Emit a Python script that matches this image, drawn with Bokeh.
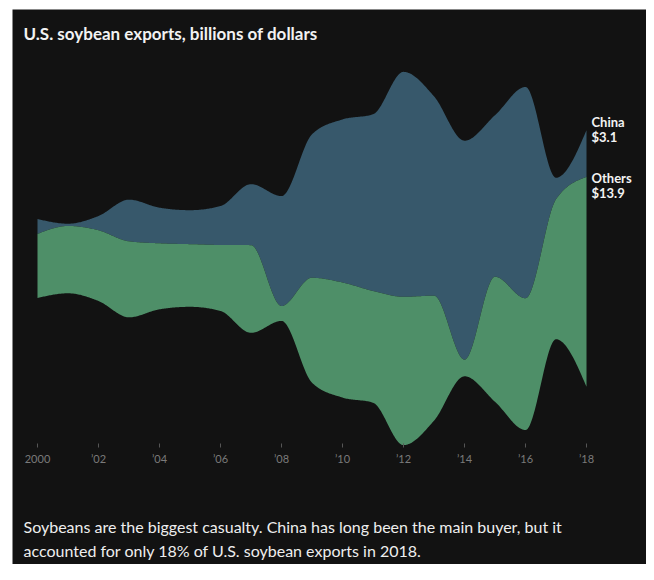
import numpy as np
from bokeh.plotting import figure
from bokeh.models import Range1d, Label
from bokeh.core.properties import value
from bokeh.embed import file_html
from bokeh.resources import INLINE

# ---------------- data (billions of dollars) ----------------
years = list(range(2000, 2019))
china = [0.99, 0.15, 0.95, 2.76, 2.36, 2.25, 2.58, 4.04, 7.28, 9.5,
         10.8, 11.7, 14.9, 13.2, 14.5, 10.7, 14.0, 1.43, 3.1]
others = [4.24, 4.46, 4.68, 5.03, 4.37, 4.15, 4.37, 5.81, 0.99, 6.95,
          7.62, 7.4, 9.82, 8.28, 1.1, 8.28, 8.72, 9.27, 13.9]
tick_years = [2000, 2002, 2004, 2006, 2008, 2010, 2012, 2014, 2016, 2018]
tick_labels = ["2000", "\u201902", "\u201904", "\u201906", "\u201908",
               "\u201910", "\u201912", "\u201914", "\u201916", "\u201918"]
series_names = ["China", "Others"]
series_last = ["$3.1", "$13.9"]
title_text = "U.S. soybean exports, billions of dollars"
caption_lines = [
    "Soybeans are the biggest casualty. China has long been the main buyer, but it",
    "accounted for only 18% of U.S. soybean exports in 2018.",
]

# ---------------- style ----------------
BG = "#121212"
BLUE = "#37586b"
GREEN = "#4e8f68"
FONT = "Lato"

W, H = 646, 564
FRAME_L, FRAME_T = 12, 9        # white strip left / top, as in the reference
FRAME_W = W - FRAME_L
FRAME_H = H - FRAME_T
PX_YEAR = 30.5
PX_B = 15.1
X_REF_PX = 37.0                 # px of year 2000
CENTER_PX = 258.0               # px of stream centre

x_start = years[0] - (X_REF_PX - FRAME_L) / PX_YEAR
x_end = x_start + FRAME_W / PX_YEAR
y_top = (CENTER_PX - FRAME_T) / PX_B
y_bot = y_top - FRAME_H / PX_B


def dx(px):
    return x_start + (px - FRAME_L) / PX_YEAR


def dy(py):
    return (CENTER_PX - py) / PX_B


# ---------------- monotone-x smoothing (like d3.curveMonotoneX) ----------------
def monotone(xs, ys, n=30):
    xs = np.asarray(xs, float)
    ys = np.asarray(ys, float)
    k = len(xs)
    h = np.diff(xs)
    s = np.diff(ys) / h
    m = np.zeros(k)
    for i in range(1, k - 1):
        s0, s1 = s[i - 1], s[i]
        p = (s0 * h[i] + s1 * h[i - 1]) / (h[i - 1] + h[i])
        m[i] = (np.sign(s0) + np.sign(s1)) * min(abs(s0), abs(s1), 0.5 * abs(p))
    m[0] = (3 * s[0] - m[1]) / 2
    m[-1] = (3 * s[-1] - m[-2]) / 2
    out_x, out_y = [], []
    for i in range(k - 1):
        u = np.linspace(0, 1, n, endpoint=False)
        h00 = 2 * u**3 - 3 * u**2 + 1
        h10 = u**3 - 2 * u**2 + u
        h01 = -2 * u**3 + 3 * u**2
        h11 = u**3 - u**2
        yy = h00 * ys[i] + h10 * h[i] * m[i] + h01 * ys[i + 1] + h11 * h[i] * m[i + 1]
        out_x.extend(xs[i] + u * h[i])
        out_y.extend(yy)
    out_x.append(xs[-1])
    out_y.append(ys[-1])
    return np.array(out_x), np.array(out_y)


china_a = np.array(china)
others_a = np.array(others)
total = china_a + others_a
top = total / 2.0
mid = top - china_a
bottom = -total / 2.0

sx, s_top = monotone(years, top)
_, s_mid = monotone(years, mid)
_, s_bot = monotone(years, bottom)

# ---------------- figure ----------------
p = figure(width=W, height=H, output_backend="svg", toolbar_location=None,
           x_axis_location=None, y_axis_location=None,
           x_range=Range1d(x_start, x_end), y_range=Range1d(y_bot, y_top),
           min_border_left=FRAME_L, min_border_top=FRAME_T,
           min_border_right=0, min_border_bottom=0)
p.background_fill_color = BG
p.border_fill_color = "white"
p.outline_line_color = None
p.xgrid.visible = False
p.ygrid.visible = False

p.varea(x=sx, y1=s_mid, y2=s_top, fill_color=BLUE)
p.varea(x=sx, y1=s_bot, y2=s_mid, fill_color=GREEN)

# tick marks and labels
p.segment(x0=tick_years, y0=[dy(443)] * len(tick_years),
          x1=tick_years, y1=[dy(447)] * len(tick_years),
          line_color="#555555", line_width=1)
p.text(x=tick_years, y=[dy(458)] * len(tick_years), text=tick_labels,
       text_align="center", text_baseline="alphabetic",
       text_font=value(FONT), text_font_size=value("11px"), text_color="#7a7a7a")

# title
p.add_layout(Label(x=dx(23), y=dy(32.5), text=title_text, text_font=FONT,
                   text_font_size="17px", text_font_style="bold",
                   text_color="#f2f2f2", text_baseline="alphabetic"))

# end labels
end_x = dx(591)
for name, val, b1, b2 in [(series_names[0], series_last[0], 121, 136),
                          (series_names[1], series_last[1], 177.5, 192)]:
    p.add_layout(Label(x=end_x, y=dy(b1), text=name, text_font=FONT,
                       text_font_size="13px", text_font_style="bold",
                       text_color="#f2f2f2", text_baseline="alphabetic"))
    p.add_layout(Label(x=end_x, y=dy(b2), text=val, text_font=FONT,
                       text_font_size="13px", text_font_style="bold",
                       text_color="#f2f2f2", text_baseline="alphabetic"))

# caption
for line, base in zip(caption_lines, [526, 550]):
    p.add_layout(Label(x=dx(23), y=dy(base), text=line, text_font=FONT,
                       text_font_size="16px", text_color="#eeeeee",
                       text_baseline="alphabetic"))

open("out.html", "w").write(file_html(p, INLINE))
